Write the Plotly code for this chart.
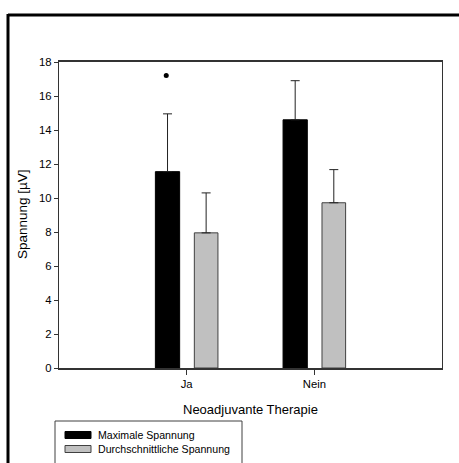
import plotly.graph_objects as go

categories = ["Ja", "Nein"]
cat_pos = [1, 2]
series_names = ["Maximale Spannung", "Durchschnittliche Spannung"]
max_values = [11.55, 14.6]
max_errors = [3.4, 2.3]
avg_values = [7.95, 9.72]
avg_errors = [2.35, 1.95]
sig_x = [0.84]
sig_y = [17.2]

W, H = 459, 463
L, R, T, B = 59, 17, 62, 95
pw, ph = W - L - R, H - T - B

def px(x):
    return (x - L) / pw

def py(y):
    return (H - B - y) / ph

FONT = "Arial, Liberation Sans, sans-serif"

fig = go.Figure()
fig.add_trace(go.Bar(
    x=cat_pos, y=max_values, name=series_names[0],
    offset=-0.245, width=0.19,
    marker=dict(color="black", line=dict(color="black", width=1)),
    error_y=dict(type="data", symmetric=False, array=max_errors,
                 arrayminus=[0] * len(max_errors), color="#222222",
                 thickness=1, width=4.5),
    showlegend=False,
))
fig.add_trace(go.Bar(
    x=cat_pos, y=avg_values, name=series_names[1],
    offset=0.06, width=0.185,
    marker=dict(color="#c0c0c0", line=dict(color="#404040", width=1)),
    error_y=dict(type="data", symmetric=False, array=avg_errors,
                 arrayminus=[0] * len(avg_errors), color="#222222",
                 thickness=1, width=4.5),
    showlegend=False,
))
fig.add_trace(go.Scatter(
    x=sig_x, y=sig_y, mode="markers",
    marker=dict(symbol="circle", size=5, color="black"),
    showlegend=False, hoverinfo="skip",
))

shapes = []
annotations = []
# outer frame (top and left edges)
shapes.append(dict(type="line", xref="paper", yref="paper",
                   x0=px(8), x1=px(460), y0=py(15), y1=py(15),
                   line=dict(color="black", width=3)))
shapes.append(dict(type="line", xref="paper", yref="paper",
                   x0=px(8), x1=px(8), y0=py(14), y1=py(470),
                   line=dict(color="black", width=3)))
# legend box
shapes.append(dict(type="rect", xref="paper", yref="paper",
                   x0=px(55), x1=px(242), y0=py(421), y1=py(470),
                   line=dict(color="#404040", width=1), fillcolor="white"))
legend_fills = ["black", "#c0c0c0"]
legend_lines = ["black", "#404040"]
for i, name in enumerate(series_names):
    yc = 435 + i * 14
    shapes.append(dict(type="rect", xref="paper", yref="paper",
                       x0=px(65), x1=px(91), y0=py(yc - 3.5), y1=py(yc + 3.5),
                       line=dict(color=legend_lines[i], width=1),
                       fillcolor=legend_fills[i]))
    annotations.append(dict(text=name, xref="paper", yref="paper",
                            x=px(96), y=py(yc), xanchor="left", yanchor="middle",
                            showarrow=False,
                            font=dict(family=FONT, size=10.6, color="black")))

annotations.append(dict(text="Spannung [µV]", xref="paper", yref="paper",
                        x=px(22), y=py(214), textangle=-90,
                        xanchor="center", yanchor="middle", showarrow=False,
                        font=dict(family=FONT, size=13.5, color="black")))
annotations.append(dict(text="Neoadjuvante Therapie", xref="paper", yref="paper",
                        x=px(250), y=py(409), xanchor="center", yanchor="middle",
                        showarrow=False,
                        font=dict(family=FONT, size=13, color="black")))

fig.update_layout(
    width=W, height=H,
    margin=dict(l=L, r=R, t=T, b=B, pad=0),
    paper_bgcolor="white", plot_bgcolor="white",
    barmode="overlay",
    shapes=shapes, annotations=annotations,
    font=dict(family=FONT, size=11, color="black"),
    xaxis=dict(range=[0, 3], tickmode="array", tickvals=cat_pos,
               ticktext=categories, ticks="outside", ticklen=5,
               tickcolor="#333333", showgrid=False, zeroline=False,
               showline=True, linecolor="#333333", linewidth=1.5, mirror=True,
               tickfont=dict(family=FONT, size=11.3)),
    yaxis=dict(range=[0, 18], dtick=2, ticks="outside", ticklen=4,
               tickcolor="#333333", showgrid=False, zeroline=False,
               showline=True, linecolor="#333333", linewidth=1.2, mirror=True,
               tickfont=dict(family=FONT, size=11.3)),
)

fig.write_html("out.html")
